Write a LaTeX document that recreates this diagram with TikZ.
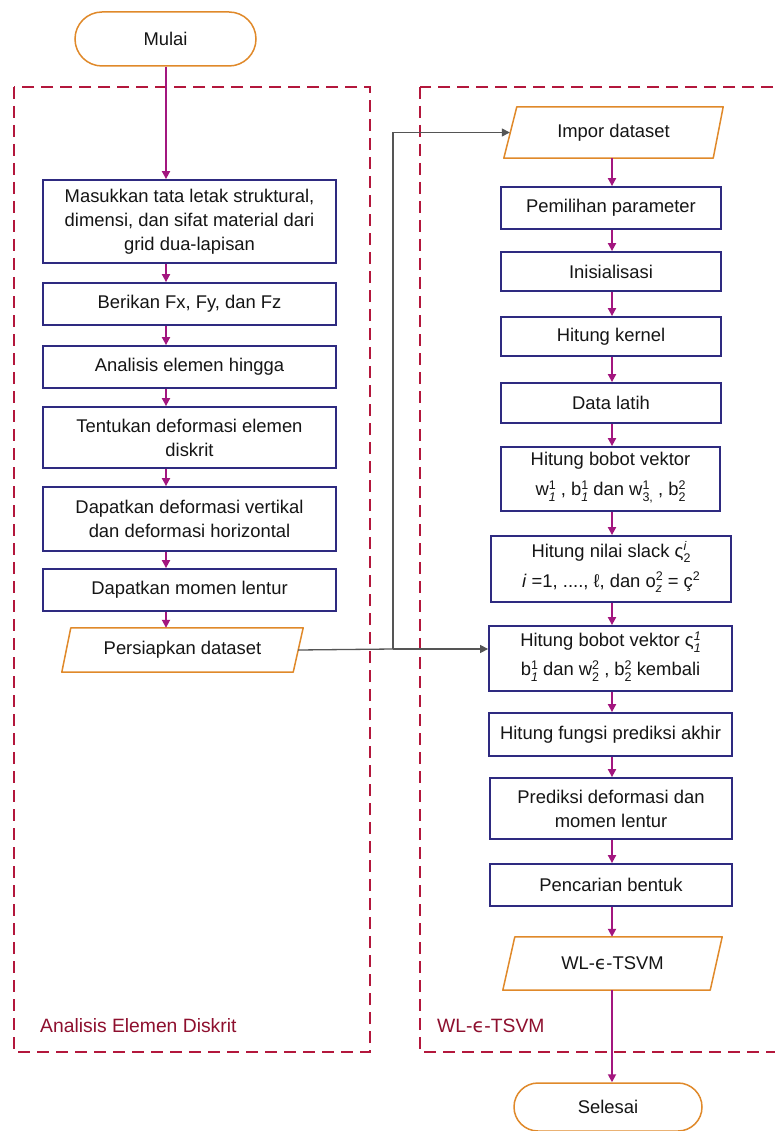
\documentclass[tikz,border=0pt]{standalone}
\usepackage{fontspec}
\setmainfont{Liberation Sans}
\newfontfamily\dejavu{DejaVu Sans}
\usetikzlibrary{shapes.geometric,shapes.misc,arrows.meta}
\definecolor{boxc}{HTML}{2E2A80}
\definecolor{ioc}{HTML}{E0892A}
\definecolor{arrc}{HTML}{A3167F}
\definecolor{dashc}{HTML}{B3173C}
\definecolor{labc}{HTML}{8E0F2E}
\definecolor{feedc}{HTML}{555555}
\definecolor{txtc}{HTML}{151515}
\newcommand\nf{\fontsize{18.4}{24}\selectfont}
\newcommand\sus[2]{\raisebox{-0.32em}{\fontsize{12.5}{12.5}\selectfont\begin{tabular}[b]{@{}l@{}}#1\\#2\end{tabular}}}
\newcommand\para[3]{\draw[iodraw] ([xshift=#2pt]#1.north west) -- (#1.north east) -- ([xshift=-#3pt]#1.south east) -- (#1.south west) -- cycle;}
\tikzset{
  proc/.style={draw=boxc, line width=1.8pt, fill=white, align=center, inner sep=0pt, font=\nf, text=txtc},
  io/.style={rectangle, align=center, inner sep=0pt, font=\nf, text=txtc},
  iodraw/.style={draw=ioc, line width=1.5pt, line join=round},
  term/.style={rounded rectangle, draw=ioc, line width=1.5pt, fill=white, inner sep=0pt, font=\nf, text=txtc},
  flow/.style={draw=arrc, line width=1.8pt, -{Triangle[length=8pt,width=8pt]}},
  feed/.style={draw=feedc, line width=1.3pt},
  feedarr/.style={feed, -{Triangle[length=8pt,width=8pt]}},
  dbox/.style={draw=dashc, line width=1.8pt, dash pattern=on 12pt off 7pt},
  lab/.style={anchor=west, text=labc, font=\fontsize{19.3}{22}\selectfont, inner sep=0pt}
}
\begin{document}
\begin{tikzpicture}[x=1pt,y=-1pt]
\useasboundingbox (0,0) rectangle (775,1131);
\clip (0,0) rectangle (775,1131);
\fill[white] (0,0) rectangle (775,1131);
% group frames
\draw[dbox] (14,87) rectangle (370,1052);
\draw[dbox] (420,87) rectangle (800,1052);
\node[lab] (labL) at (40,1026) {Analisis Elemen Diskrit};
\node[lab] (labR) at (437,1026) {WL-{\dejavu ϵ}-TSVM};
% axis coordinates
\coordinate (lx) at (166,0);
\coordinate (rx) at (612,0);
% left column
\node[term, minimum width=181pt, minimum height=54pt] (mul) at (165.5,39) {Mulai};
\node[proc, minimum width=293pt, minimum height=83pt] (l1) at (189.5,221.5) {Masukkan tata letak struktural,\\dimensi, dan sifat material dari\\grid dua-lapisan};
\node[proc, minimum width=293pt, minimum height=42pt] (l2) at (189.5,304) {Berikan Fx, Fy, dan Fz};
\node[proc, minimum width=293pt, minimum height=42pt] (l3) at (189.5,367) {Analisis elemen\ hingga};
\node[proc, minimum width=293pt, minimum height=61pt] (l4) at (189.5,437.5) {Tentukan deformasi elemen\\diskrit};
\node[proc, minimum width=293pt, minimum height=64pt] (l5) at (189.5,519) {Dapatkan deformasi vertikal\\dan deformasi horizontal};
\node[proc, minimum width=293pt, minimum height=42pt] (l6) at (189.5,590) {Dapatkan momen lentur};
\node[io, minimum width=241pt, minimum height=44pt] (per) at (182.5,650) {Persiapkan dataset};
\para{per}{9}{10}
% right column
\node[io, minimum width=219pt, minimum height=51pt] (imp) at (613.5,132.5) {Impor dataset};
\para{imp}{13}{10}
\node[proc, minimum width=220pt, minimum height=42pt] (r1) at (611,208) {Pemilihan parameter};
\node[proc, minimum width=220pt, minimum height=39pt] (r2) at (611,271.5) {Inisialisasi};
\node[proc, minimum width=220pt, minimum height=39pt] (r3) at (611,336.5) {Hitung kernel};
\node[proc, minimum width=220pt, minimum height=40pt] (r4) at (611,403) {Data latih};
\node[proc, minimum width=219pt, minimum height=64pt] (r5) at (610.5,479) {Hitung bobot vektor\\[6pt]w\sus{1}{\textit{1}} , b\sus{1}{\textit{1}} dan w\sus{1}{3,} , b\sus{2}{2}};
\node[proc, minimum width=240pt, minimum height=66pt] (r6) at (611,569) {Hitung nilai slack ς\sus{\textit{i}}{2}\\[4pt]\textit{i} =1, ...., ℓ, dan o\sus{2}{\textit{z}} = ç\sus{2}{\mbox{}}};
\node[proc, minimum width=243pt, minimum height=65pt] (r7) at (610.5,658.5) {Hitung bobot vektor ς\sus{\textit{1}}{\textit{1}}\\[3pt]b\sus{1}{\textit{1}} dan w\sus{2}{2} , b\sus{2}{2} kembali};
\node[proc, minimum width=243pt, minimum height=43pt] (r8) at (610.5,734.5) {Hitung fungsi prediksi akhir};
\node[proc, minimum width=242pt, minimum height=61pt] (r9) at (611,808.5) {Prediksi deformasi dan\\momen lentur};
\node[proc, minimum width=242pt, minimum height=42pt] (r10) at (611,885) {Pencarian bentuk};
\node[io, minimum width=219pt, minimum height=53pt] (wl) at (612.5,963.5) {WL-{\dejavu ϵ}-TSVM};
\para{wl}{12}{12}
\node[term, minimum width=188pt, minimum height=48pt] (sel) at (608,1107) {Selesai};
% left flow
\draw[flow] (mul.south -| lx) -- (l1.north -| lx);
\draw[flow] (l1.south -| lx) -- (l2.north -| lx);
\draw[flow] (l2.south -| lx) -- (l3.north -| lx);
\draw[flow] (l3.south -| lx) -- (l4.north -| lx);
\draw[flow] (l4.south -| lx) -- (l5.north -| lx);
\draw[flow] (l5.south -| lx) -- (l6.north -| lx);
\draw[flow] (l6.south -| lx) -- (per.north -| lx);
% right flow
\draw[flow] (imp.south -| rx) -- (r1.north -| rx);
\draw[flow] (r1.south -| rx) -- (r2.north -| rx);
\draw[flow] (r2.south -| rx) -- (r3.north -| rx);
\draw[flow] (r3.south -| rx) -- (r4.north -| rx);
\draw[flow] (r4.south -| rx) -- (r5.north -| rx);
\draw[flow] (r5.south -| rx) -- (r6.north -| rx);
\draw[flow] (r6.south -| rx) -- (r7.north -| rx);
\draw[flow] (r7.south -| rx) -- (r8.north -| rx);
\draw[flow] (r8.south -| rx) -- (r9.north -| rx);
\draw[flow] (r9.south -| rx) -- (r10.north -| rx);
\draw[flow] (r10.south -| rx) -- (wl.north -| rx);
\draw[flow] (wl.south -| rx) -- (sel.north -| rx);
% dataset feed
\coordinate (jn) at (393,649);
\draw[feed] ([xshift=-5pt]per.east) -- (jn);
\draw[feedarr] (jn) |- ([xshift=6pt]imp.west);
\draw[feedarr] (jn) -- (jn -| r7.west);
\end{tikzpicture}
\end{document}
